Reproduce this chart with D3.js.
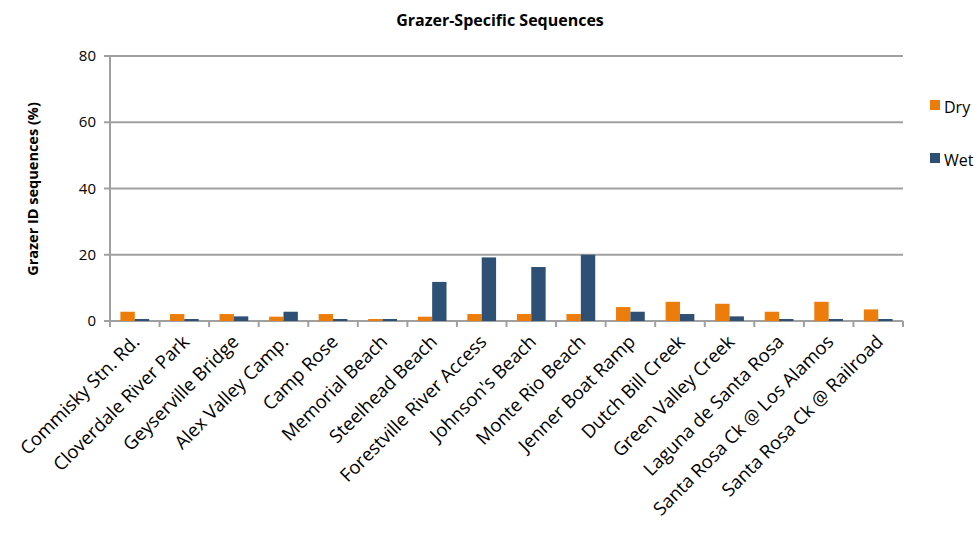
<!DOCTYPE html><html><head><meta charset="utf-8"><script src="https://cdn.jsdelivr.net/npm/d3@7"></script>
<style>body{margin:0;background:#fff}text{font-family:"Open Sans",Arial,sans-serif}</style></head><body><svg width="980" height="539"></svg>
<script>
const categories=["Commisky Stn. Rd.","Cloverdale River Park","Geyserville Bridge","Alex Valley Camp.","Camp Rose","Memorial Beach","Steelhead Beach","Forestville River Access","Johnson's Beach","Monte Rio Beach","Jenner Boat Ramp","Dutch Bill Creek","Green Valley Creek","Laguna de Santa Rosa","Santa Rosa Ck @ Los Alamos","Santa Rosa Ck @ Railroad"];
const dry=[2.8,2.1,2.1,1.3,2.1,0.6,1.3,2.1,2.1,2.1,4.2,5.8,5.2,2.8,5.8,3.5];
const wet=[0.6,0.6,1.4,2.8,0.6,0.6,11.8,19.2,16.3,20,2.8,2.1,1.4,0.6,0.6,0.6];
const yTicks=[0,20,40,60,80];
const svg=d3.select("svg");
const L=110,R=903,T=56,B=321;
const x=d3.scaleBand().domain(categories).range([L,R]);
const y=d3.scaleLinear().domain([0,80]).range([B,T]);
const g="#a0a0a0";
svg.append("g").selectAll("line").data(yTicks).join("line").attr("x1",L-6).attr("x2",R).attr("y1",d=>y(d)).attr("y2",d=>y(d)).attr("stroke",g).attr("stroke-width",2);
svg.append("line").attr("x1",L).attr("x2",L).attr("y1",T).attr("y2",B+6).attr("stroke",g).attr("stroke-width",2);
svg.append("g").selectAll("line").data(categories.map((c,i)=>L+i*x.bandwidth()).concat([R])).join("line").attr("x1",d=>d).attr("x2",d=>d).attr("y1",B).attr("y2",B+6).attr("stroke",g).attr("stroke-width",2);
svg.append("g").selectAll("text").data(yTicks).join("text").attr("x",L-14).attr("y",d=>y(d)+5).attr("text-anchor","end").attr("font-size",15).text(d=>d);
const bw=x.bandwidth()*0.29;
svg.append("g").selectAll("rect").data(dry).join("rect").attr("x",(d,i)=>x(categories[i])+x.bandwidth()/2-bw).attr("width",bw).attr("y",d=>y(d)).attr("height",d=>B-y(d)).attr("fill","#ed7d0a");
svg.append("g").selectAll("rect").data(wet).join("rect").attr("x",(d,i)=>x(categories[i])+x.bandwidth()/2).attr("width",bw).attr("y",d=>y(d)).attr("height",d=>B-y(d)).attr("fill","#2e5074");
svg.append("g").selectAll("text").data(categories).join("text").attr("transform",d=>`translate(${x(d)+x.bandwidth()/2+6},${B+22}) rotate(-45)`).attr("text-anchor","end").attr("font-size",18.5).text(d=>d);
svg.append("text").attr("x",500).attr("y",26).attr("text-anchor","middle").attr("font-weight","bold").attr("font-size",16).text("Grazer-Specific Sequences");
svg.append("text").attr("transform","translate(38,189) rotate(-90)").attr("text-anchor","middle").attr("font-weight","bold").attr("font-size",14.5).text("Grazer ID sequences (%)");
[["Dry","#ed7d0a",110],["Wet","#2e5074",163]].forEach(([t,c,yy])=>{svg.append("rect").attr("x",930).attr("y",yy-10).attr("width",10).attr("height",10).attr("fill",c);svg.append("text").attr("x",944).attr("y",yy+3).attr("font-size",16).text(t);});
</script></body></html>
